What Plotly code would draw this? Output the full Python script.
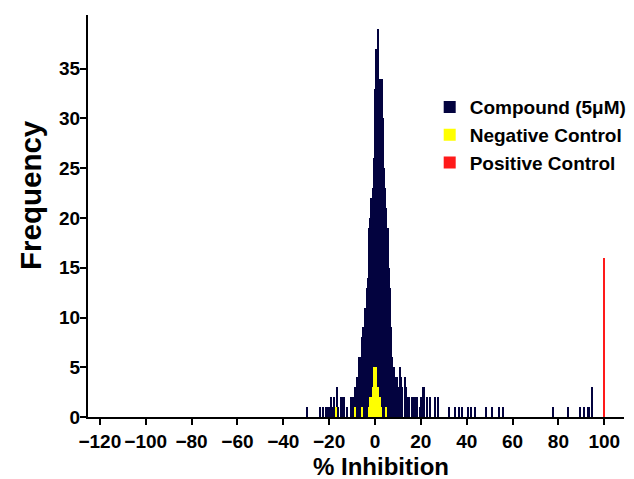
import plotly.graph_objects as go

# ---- data (bin centre in % inhibition, frequency) ----
compound_pct = [-29.5, -24.0, -22.5, -21.5, -21.0, -20.0, -19.0, -18.5, -18.0, -17.5,
                -16.5, -16.0, -15.0, -14.5, -13.5, -12.0, -10.5, -10.0, -9.5, -9.0,
                -8.5, -8.0, -7.5, -7.0, -6.5, -6.0, -5.5, -5.0, -4.5, -4.0,
                -3.5, -3.0, -2.5, -2.0, -1.5, -1.0, -0.5, 0.0, 0.5, 1.0,
                1.5, 2.0, 2.5, 3.0, 3.5, 4.0, 4.5, 5.0, 5.5, 6.0,
                6.5, 7.0, 7.5, 8.0, 8.5, 9.0, 9.5, 10.0, 10.5, 11.0,
                11.5, 12.0, 13.0, 13.5, 14.5, 15.0, 16.0, 17.0, 18.0, 18.5,
                19.5, 20.0, 21.0, 21.5, 22.5, 24.0, 26.0, 27.5, 32.5, 35.0,
                36.5, 38.0, 40.5, 42.0, 43.5, 48.5, 51.0, 54.0, 56.0, 77.5,
                84.0, 89.5, 91.0, 93.0, 93.5, 94.5]
compound_freq = [1, 1, 1, 1, 1, 1, 2, 1, 2, 1,
                 3, 1, 2, 2, 2, 1, 2, 2, 2, 2,
                 3, 4, 4, 6, 4, 6, 8, 9, 11, 11,
                 13, 14, 19, 20, 22, 23, 26, 33, 37, 34,
                 39, 34, 31, 34, 30, 25, 23, 21, 19, 15,
                 13, 9, 6, 5, 5, 4, 4, 2, 3, 5,
                 4, 3, 4, 3, 2, 2, 2, 2, 2, 2,
                 1, 2, 3, 3, 2, 2, 2, 2, 1, 1,
                 1, 1, 1, 1, 1, 1, 1, 1, 1, 1,
                 1, 1, 1, 1, 1, 3]

negative_pct = [-17.0, -8.5, -5.5, -2.5, -2.0, -1.5, -1.0, -0.5, 0.0, 0.5,
                1.0, 1.5, 2.0, 2.5, 5.0]
negative_freq = [1, 1, 1, 1, 2, 2, 3, 5, 4, 5,
                 3, 3, 2, 1, 1]

positive_pct = [100.0]
positive_freq = [16]

x_ticks = [-120, -100, -80, -60, -40, -20, 0, 20, 40, 60, 80, 100]
y_ticks = [0, 5, 10, 15, 20, 25, 30, 35]

FONT = "Liberation Sans, Arial, sans-serif"
BIN_W = 0.5

fig = go.Figure()
fig.add_trace(go.Bar(x=compound_pct, y=compound_freq, width=BIN_W,
                     name="Compound (5μM)",
                     marker=dict(color="#03033f", line=dict(width=0))))
fig.add_trace(go.Bar(x=negative_pct, y=negative_freq, width=BIN_W,
                     name="Negative Control",
                     marker=dict(color="#ffff00", line=dict(width=0))))
fig.add_trace(go.Bar(x=positive_pct, y=positive_freq, width=BIN_W,
                     name="Positive Control",
                     marker=dict(color="#ff1a1a", line=dict(width=0))))

fig.update_layout(
    width=644, height=479,
    margin=dict(l=88, r=17, t=15, b=62),
    paper_bgcolor="white", plot_bgcolor="white",
    barmode="overlay", bargap=0,
    font=dict(family=FONT, color="black"),
    legend=dict(x=0.6375, y=0.818, xanchor="left", yanchor="top",
                font=dict(size=19, family=FONT, weight="bold"),
                bgcolor="rgba(0,0,0,0)"),
    xaxis=dict(range=[-125.16, 108.6], tickvals=x_ticks, tickangle=0,
               ticks="outside", ticklen=6, tickwidth=2, tickcolor="black",
               showline=True, linewidth=2, linecolor="black",
               showgrid=False, zeroline=False, automargin=False,
               tickfont=dict(size=19, family=FONT, weight="bold")),
    yaxis=dict(range=[0, 40.4], tickvals=y_ticks,
               ticks="outside", ticklen=6, tickwidth=2, tickcolor="black",
               showline=True, linewidth=2, linecolor="black",
               showgrid=False, zeroline=False, ticklabelstandoff=-4,
               automargin=False,
               tickfont=dict(size=19, family=FONT, weight="bold")),
    annotations=[
        dict(text="% Inhibition", xref="paper", yref="paper",
             x=0.5475, y=-0.124, xanchor="center", yanchor="middle",
             showarrow=False,
             font=dict(size=24, family=FONT, weight="bold", color="black")),
        dict(text="Frequency", xref="paper", yref="paper", textangle=-90,
             x=-0.1085, y=0.552, xanchor="center", yanchor="middle",
             showarrow=False,
             font=dict(size=29.5, family=FONT, weight="bold", color="black")),
    ],
)

fig.write_html(
    "out.html", config={"displayModeBar": False},
    post_script=("document.body.style.margin='0px';"
                 "document.body.style.overflow='hidden';"
                 "document.documentElement.style.overflow='hidden';"))
